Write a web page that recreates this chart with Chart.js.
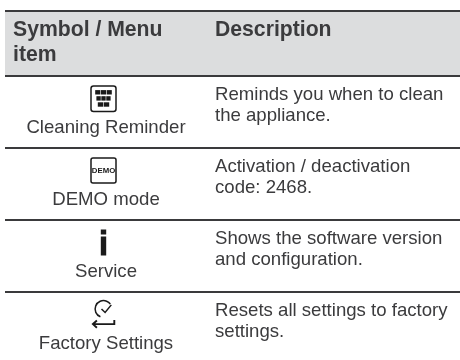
<!DOCTYPE html>
<html>
<head>
<meta charset="utf-8">
<style>
  html, body { margin: 0; padding: 0; background: #fff; overflow: hidden; }
  canvas { display: block; }
</style>
<script src="https://cdn.jsdelivr.net/npm/chart.js@4"></script>
</head>
<body>
<canvas id="myChart" width="460" height="360"></canvas>
<script>
const columnTitles = [['Symbol / Menu', 'item'], ['Description']];
const menuItems = ['Cleaning Reminder', 'DEMO mode', 'Service', 'Factory Settings'];
const descriptions = [
  ['Reminds you when to clean', 'the appliance.'],
  ['Activation / deactivation', 'code: 2468.'],
  ['Shows the software version', 'and configuration.'],
  ['Resets all settings to factory', 'settings.']
];
const rowLines = [11, 76, 148, 220, 292];

const textColor = '#3b3b3d';
const headerFill = '#dcddde';
const ruleColor = '#3a3a3c';
const bodyFont = '18.6px "Liberation Sans", Arial, sans-serif';
const titleFont = 'bold 21.2px "Liberation Sans", Arial, sans-serif';

function drawCleaning(ctx, cx, cy) {
  ctx.lineWidth = 1.5;
  ctx.beginPath();
  ctx.roundRect(cx - 12.5, cy - 12.6, 25, 25.6, 2.5);
  ctx.stroke();
  [[-8.6, 17.2, 3], [-7.4, 14.8, 3], [-6, 12, 2]].forEach((row, i) => {
    const w = row[1] / row[2];
    for (let k = 0; k < row[2]; k++) {
      ctx.fillRect(cx + row[0] + k * w + 0.3, cy - 8.4 + i * 6.1, w - 0.6, 4.4);
    }
  });
}

function drawDemo(ctx, cx, cy) {
  ctx.lineWidth = 1.5;
  ctx.beginPath();
  ctx.roundRect(cx - 12.5, cy - 12.5, 25, 25, 2);
  ctx.stroke();
  ctx.font = 'bold 7.8px "Liberation Sans", Arial, sans-serif';
  ctx.textAlign = 'center';
  ctx.fillText('DEMO', cx, cy + 2.8);
}

function drawService(ctx, cx, cy) {
  ctx.fillRect(cx - 2.7, cy - 13, 5.4, 5);
  ctx.fillRect(cx - 2.7, cy - 6, 5.4, 19);
}

function drawFactory(ctx, cx, cy) {
  ctx.lineWidth = 1.5;
  ctx.beginPath();
  ctx.arc(cx, cy - 5.5, 8.4, Math.PI * 0.62, Math.PI * 1.8);
  ctx.moveTo(cx - 2, cy - 5.5);
  ctx.lineTo(cx + 1.6, cy - 2);
  ctx.lineTo(cx + 7.8, cy - 9.6);
  ctx.stroke();
  ctx.beginPath();
  ctx.lineWidth = 1.9;
  ctx.moveTo(cx + 10.8, cy + 5.5);
  ctx.lineTo(cx + 10.8, cy + 9.6);
  ctx.lineTo(cx - 10, cy + 9.6);
  ctx.moveTo(cx - 6.6, cy + 6);
  ctx.lineTo(cx - 10.6, cy + 9.6);
  ctx.lineTo(cx - 6.6, cy + 13.2);
  ctx.stroke();
}

const symbolDrawers = [drawCleaning, drawDemo, drawService, drawFactory];

// the table text and the little symbols sit on the chart's own scales
const tablePlugin = {
  id: 'tablePlugin',
  afterDraw(chart) {
    const { ctx, scales: { x, y } } = chart;
    ctx.save();
    ctx.fillStyle = textColor;
    ctx.textBaseline = 'alphabetic';

    ctx.font = titleFont;
    ctx.textAlign = 'left';
    columnTitles.forEach((lines, c) => {
      const left = x.getPixelForValue(c === 0 ? 8 : 210);
      lines.forEach((line, i) => {
        ctx.fillText(line, left, y.getPixelForValue(36 + i * 25));
      });
    });

    const symbolX = x.getPixelForValue(98.5);
    menuItems.forEach((name, r) => {
      const top = rowLines[r + 1];
      ctx.font = bodyFont;
      ctx.textAlign = 'center';
      ctx.fillStyle = textColor;
      ctx.fillText(name, x.getPixelForValue(101), y.getPixelForValue(top + 56.8));

      ctx.textAlign = 'left';
      descriptions[r].forEach((line, i) => {
        ctx.fillText(line, x.getPixelForValue(210), y.getPixelForValue(top + 23.6 + i * 21.5));
      });

      ctx.fillStyle = '#1a1a1a';
      ctx.strokeStyle = '#1a1a1a';
      symbolDrawers[r](ctx, symbolX, y.getPixelForValue(top + 22.5));
    });
    ctx.restore();
  }
};

new Chart(document.getElementById('myChart'), {
  type: 'line',
  data: {
    datasets: [{
      data: [{ x: 0, y: rowLines[0] }, { x: 455, y: rowLines[0] }],
      borderWidth: 0,
      pointRadius: 0,
      backgroundColor: headerFill,
      fill: { value: rowLines[1] }
    }]
  },
  options: {
    responsive: false,
    animation: false,
    layout: { padding: { left: 5 } },
    plugins: { legend: { display: false }, tooltip: { enabled: false } },
    scales: {
      x: { type: 'linear', display: false, min: 0, max: 455 },
      y: {
        type: 'linear',
        reverse: true,
        min: 0,
        max: 360,
        afterBuildTicks(axis) {
          axis.ticks = rowLines.map(value => ({ value }));
        },
        ticks: { display: false },
        border: { display: false },
        grid: { color: ruleColor, lineWidth: 2, drawTicks: false, z: 1 }
      }
    }
  },
  plugins: [tablePlugin]
});
</script>
</body>
</html>
